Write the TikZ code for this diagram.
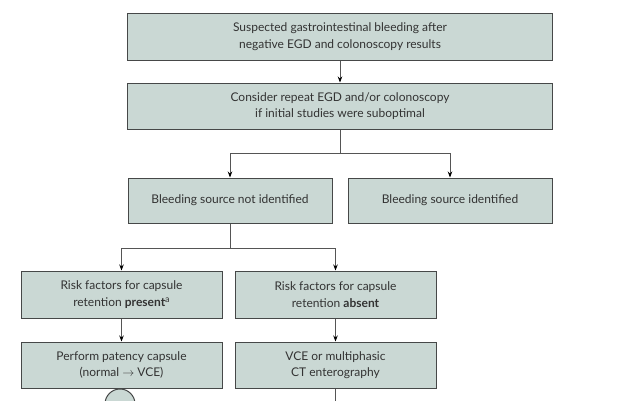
\documentclass[tikz,border=0pt]{standalone}
\usepackage{fontspec}
\setmainfont{Lato}
\usepackage{xcolor}
\usetikzlibrary{arrows.meta}

\definecolor{boxfill}{RGB}{202,216,212}
\definecolor{boxline}{RGB}{70,72,72}
\definecolor{linkline}{RGB}{85,85,85}

\begin{document}
\begin{tikzpicture}[x=1pt,y=-1pt,font=\fontsize{12}{16.5}\selectfont,
  stepbox/.style={draw=boxline,line width=1pt,fill=boxfill,align=center,
    inner sep=0pt,text=black!80},
  link/.style={draw=linkline,line width=0.8pt},
  arr/.style={link,-{Stealth[length=6pt,width=4.5pt,black]}}]
  \clip (0,0) rectangle (632,400);
  \useasboundingbox (0,0) rectangle (632,400);
  \fill[white] (0,0) rectangle (632,400);
  % top boxes
  \node[stepbox,minimum width=425,minimum height=47] (susp) at (340,36.5)
    {Suspected gastrointestinal bleeding after\\negative EGD and colonoscopy results};
  \node[stepbox,minimum width=425,minimum height=46] (repeat) at (340,106)
    {Consider repeat EGD and/or colonoscopy\\if initial studies were suboptimal};
  % source found or not
  \node[stepbox,minimum width=204,minimum height=45] (notfound) at (230,200.5)
    {Bleeding source not identified};
  \node[stepbox,minimum width=204,minimum height=45] (found) at (450,200.5)
    {Bleeding source identified};
  % capsule retention risk
  \node[stepbox,minimum width=201,minimum height=47] (riskyes) at (121.5,294.5)
    {Risk factors for capsule\\retention \textbf{present}\raisebox{0.55ex}{\fontsize{9}{9}\selectfont a}};
  \node[stepbox,minimum width=201,minimum height=47] (riskno) at (335.5,294.5)
    {Risk factors for capsule\\retention \textbf{absent}};
  \node[stepbox,minimum width=201,minimum height=46] (patency) at (121.5,365)
    {Perform patency capsule\\(normal $\rightarrow$ VCE)};
  \node[stepbox,minimum width=201,minimum height=46] (vce) at (335.5,365)
    {VCE or multiphasic\\CT enterography};
  \node[stepbox,circle,minimum size=30] (next) at (120,404) {};
  % connectors
  \coordinate (split1) at (340,153);
  \coordinate (split2) at (230,248);
  \coordinate (down) at (335.5,402);
  \draw[arr] (susp) -- (repeat);
  \draw[link] (repeat) -- (split1);
  \draw[arr] (split1) -| (notfound);
  \draw[arr] (split1) -| (found);
  \draw[link] (notfound) -- (split2);
  \draw[arr] (split2) -| (riskyes);
  \draw[arr] (split2) -| (riskno);
  \draw[arr] (riskyes) -- (patency);
  \draw[arr] (riskno) -- (vce);
  \draw[link] (vce) -- (down);
\end{tikzpicture}
\end{document}
